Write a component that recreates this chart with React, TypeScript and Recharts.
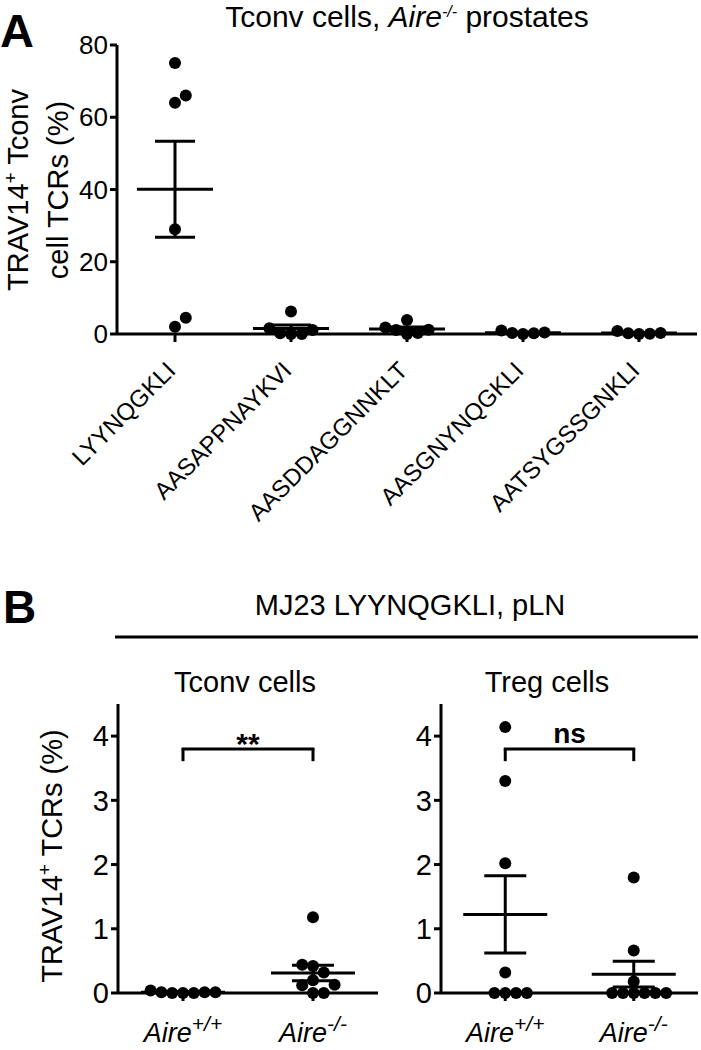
import { ErrorBar, ReferenceLine, Scatter, ScatterChart, XAxis, YAxis } from 'recharts';

const FONT = '"Liberation Sans", Arial, Helvetica, sans-serif';

// ---- panel A: Tconv cells, Aire-/- prostates ----
const peptides = ['LYYNQGKLI', 'AASAPPNAYKVI', 'AASDDAGGNNKLT', 'AASGNYNQGKLI', 'AATSYGSSGNKLI'];
const lyynqgkli = [75, 64, 66, 29, 2, 4.5];
const aasappnaykvi = [6.2, 0.2, 1.6, 0, 1.1, 0];
const aasddaggnnklt = [3.9, 1.1, 1.8, 0, 1.2, 0.3];
const aasgnynqgkli = [0.3, 1.0, 0.2, 0, 0.4];
const aatsygssgnkli = [0.2, 0.8, 0.3, 0, 0.1];
const yTicksA = [0, 20, 40, 60, 80];

// ---- panel B: MJ23 LYYNQGKLI, pLN ----
const genotypes = ['+/+', '-/-'];
const tconvWT = [0, 0.01, 0.01, 0, 0.01, 0.04, 0];
const tconvKO = [1.18, 0.42, 0.44, 0.32, 0.2, 0.12, 0.13, 0, 0];
const tregWT = [4.14, 3.3, 2.02, 0.32, 0, 0, 0, 0];
const tregKO = [1.8, 0.66, 0.18, 0, 0, 0, 0, 0, 0];
const yTicksB = [0, 1, 2, 3, 4];
const signifTconv = '**';
const signifTreg = 'ns';

const mean = (v: number[]) => v.reduce((a, b) => a + b, 0) / v.length;
const sem = (v: number[]) => {
  const m = mean(v);
  const sd = Math.sqrt(v.reduce((a, b) => a + (b - m) ** 2, 0) / (v.length - 1));
  return sd / Math.sqrt(v.length);
};

// push overlapping dots sideways, like a prism column scatter
function swarm(values: number[], pxPerY: number, pxPerX: number, gap = 10.8) {
  const order = values.map((_, i) => i).sort((a, b) => values[a] - values[b]);
  const placed: { dx: number; y: number }[] = [];
  const out = values.map(() => 0);
  for (const i of order) {
    const y = values[i] * pxPerY;
    for (let k = 0; k < 60; k++) {
      const slot = k === 0 ? 0 : k % 2 ? (k + 1) / 2 : -k / 2;
      const dx = slot * gap;
      if (placed.every((p) => Math.hypot(p.dx - dx, p.y - y) >= gap - 0.01)) {
        placed.push({ dx, y });
        out[i] = dx / pxPerX;
        break;
      }
    }
  }
  return out;
}

const toPoints = (groups: number[][], pxPerY: number, pxPerX: number) =>
  groups.flatMap((vals, g) => {
    const off = swarm(vals, pxPerY, pxPerX);
    return vals.map((v, i) => ({ x: g + off[i], y: v }));
  });

const toSummary = (groups: number[][]) =>
  groups.map((vals, g) => ({ x: g, y: mean(vals), sem: sem(vals) }));

const Dot = (p: any) => <circle cx={p.cx} cy={p.cy} r={6} fill="#000" />;
const meanLine = (half: number) => (p: any) =>
  <line x1={p.cx - half} x2={p.cx + half} y1={p.cy} y2={p.cy} stroke="#000" strokeWidth={3} />;

const axisStyle = { stroke: '#000', strokeWidth: 3 };

const PeptideTick = (p: any) => (
  <g transform={`translate(${p.x + 2}, ${p.y + 30}) rotate(-45)`}>
    <text x={0} y={0} textAnchor="end" fontFamily={FONT} fontSize={24} fill="#000">
      {peptides[p.payload.value]}
    </text>
  </g>
);

const GenoTick = (p: any) => (
  <text x={p.x} y={p.y + 41} textAnchor="middle" fontFamily={FONT} fontSize={27} fontStyle="italic" fill="#000">
    Aire<tspan dy={-11} fontSize={21}>{genotypes[p.payload.value]}</tspan>
  </text>
);

const YLabelA = () => (
  <text fontFamily={FONT} fontSize={29} fill="#000" textAnchor="middle" transform="translate(28,190) rotate(-90)">
    <tspan x={0} y={0}>TRAV14<tspan dy={-11} fontSize={19}>+</tspan><tspan dy={11}> Tconv</tspan></tspan>
    <tspan x={0} y={40}>cell TCRs (%)</tspan>
  </text>
);

const YLabelB = () => (
  <text fontFamily={FONT} fontSize={29} fill="#000" textAnchor="middle" transform="translate(62,196) rotate(-90)">
    TRAV14<tspan dy={-11} fontSize={19}>+</tspan><tspan dy={11}> TCRs (%)</tspan>
  </text>
);

function PanelA() {
  const groups = [lyynqgkli, aasappnaykvi, aasddaggnnklt, aasgnynqgkli, aatsygssgnkli];
  const points = toPoints(groups, 289 / 80, 116);
  const summary = toSummary(groups);
  return (
    <ScatterChart width={701} height={540} margin={{ top: 45, right: 4, bottom: 0, left: 0 }}>
      <XAxis type="number" dataKey="x" domain={[-0.5, 4.5]} ticks={[0, 1, 2, 3, 4]} interval={0}
        height={206} axisLine={axisStyle} tickLine={axisStyle} tickSize={8} tickMargin={0}
        tick={<PeptideTick />} />
      <YAxis type="number" dataKey="y" domain={[0, 80]} ticks={yTicksA} interval={0} width={117}
        axisLine={axisStyle} tickLine={axisStyle} tickSize={7} tickMargin={2}
        tick={{ fill: '#000', fontSize: 26, fontFamily: FONT }}
        label={{ content: () => <YLabelA /> }} />
      <Scatter data={points} shape={Dot} isAnimationActive={false} />
      <Scatter data={summary} shape={meanLine(38)} isAnimationActive={false}>
        <ErrorBar dataKey="sem" direction="y" width={20} stroke="#000" strokeWidth={3} isAnimationActive={false} />
      </Scatter>
    </ScatterChart>
  );
}

function PanelB({ groups, width, yWidth, right, signif, withLabel }: any) {
  const points = toPoints(groups, 289 / 4.5, (width - yWidth - right) / 2);
  const summary = toSummary(groups);
  const top = 3.8;
  const leg = 3.61;
  return (
    <ScatterChart width={width} height={390} margin={{ top: 44, right, bottom: 0, left: 0 }}>
      <XAxis type="number" dataKey="x" domain={[-0.5, 1.5]} ticks={[0, 1]} interval={0}
        height={57} axisLine={axisStyle} tickLine={axisStyle} tickSize={8} tickMargin={0}
        tick={<GenoTick />} />
      <YAxis type="number" dataKey="y" domain={[0, 4.5]} ticks={yTicksB} interval={0} width={yWidth}
        axisLine={axisStyle} tickLine={axisStyle} tickSize={7} tickMargin={2}
        tick={{ fill: '#000', fontSize: 29, fontFamily: FONT }}
        label={withLabel ? { content: () => <YLabelB /> } : undefined} />
      <Scatter data={points} shape={Dot} isAnimationActive={false} />
      <Scatter data={summary} shape={meanLine(42)} isAnimationActive={false}>
        <ErrorBar dataKey="sem" direction="y" width={21} stroke="#000" strokeWidth={3} isAnimationActive={false} />
      </Scatter>
      <ReferenceLine segment={[{ x: 0, y: leg }, { x: 0, y: top }]} stroke="#000" strokeWidth={3} />
      <ReferenceLine segment={[{ x: 1, y: leg }, { x: 1, y: top }]} stroke="#000" strokeWidth={3} />
      <ReferenceLine segment={[{ x: 0, y: top }, { x: 1, y: top }]} stroke="#000" strokeWidth={3}
        strokeLinecap="square"
        label={{
          content: (lp: any) => {
            const vb = lp.viewBox || {};
            return (
              <text x={vb.x + (vb.width || 0) / 2} y={vb.y + (signif === '**' ? 5 : -6)} textAnchor="middle"
                fontFamily={FONT} fontSize={signif === '**' ? 30 : 28} fontWeight="bold" fill="#000">{signif}</text>
            );
          },
        }} />
    </ScatterChart>
  );
}

export default function App() {
  return (
    <div style={{ position: 'absolute', left: 0, top: 0, width: 701, height: 1050, background: '#fff' }}>
      <div style={{ position: 'absolute', left: 0, top: 0 }}>
        <PanelA />
      </div>
      <div style={{ position: 'absolute', left: 0, top: 660 }}>
        <PanelB groups={[tconvWT, tconvKO]} width={390} yWidth={118} right={12} signif={signifTconv} withLabel />
      </div>
      <div style={{ position: 'absolute', left: 390, top: 660 }}>
        <PanelB groups={[tregWT, tregKO]} width={311} yWidth={51} right={3} signif={signifTreg} />
      </div>
      <svg width={701} height={1050} style={{ position: 'absolute', left: 0, top: 0, pointerEvents: 'none' }}
        fontFamily={FONT} fill="#000">
        <text x={0} y={47} fontSize={47} fontWeight="bold">A</text>
        <text x={407} y={27} fontSize={30} textAnchor="middle">
          Tconv cells, <tspan fontStyle="italic">Aire</tspan>
          <tspan dy={-10} fontSize={16} fontStyle="italic">-/-</tspan>
          <tspan dy={10}> prostates</tspan>
        </text>
        <text x={3} y={623} fontSize={46} fontWeight="bold">B</text>
        <text x={410} y={615} fontSize={29} textAnchor="middle">MJ23 LYYNQGKLI, pLN</text>
        <line x1={115} x2={698} y1={637} y2={637} stroke="#000" strokeWidth={3} />
        <text x={245} y={692} fontSize={29} textAnchor="middle">Tconv cells</text>
        <text x={547} y={692} fontSize={29} textAnchor="middle">Treg cells</text>
      </svg>
    </div>
  );
}
